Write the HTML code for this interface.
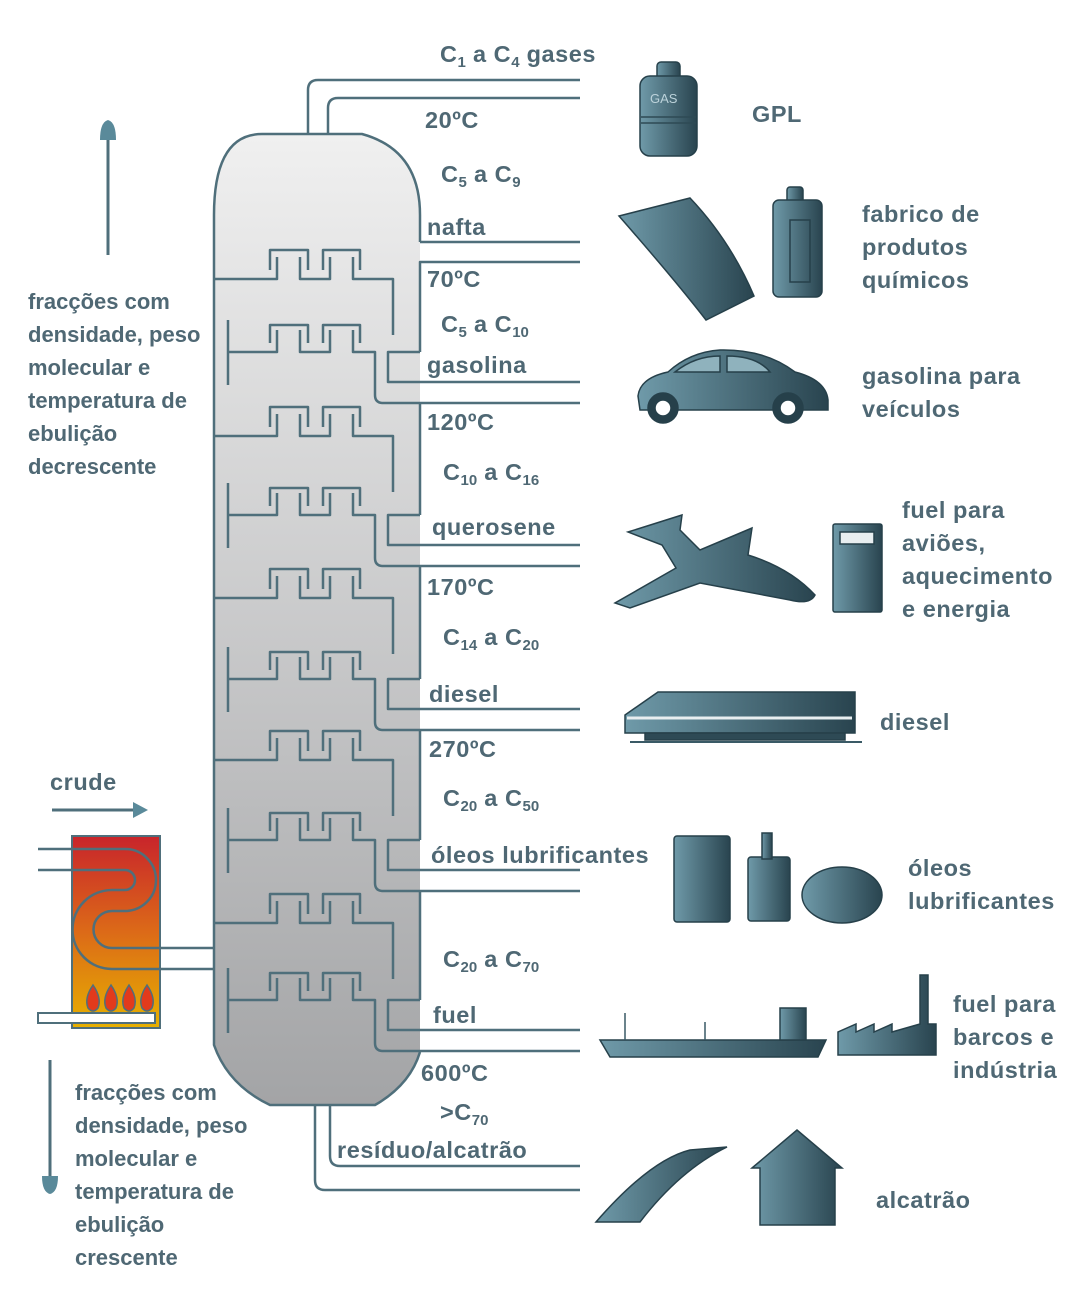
<!DOCTYPE html>
<html><head><meta charset="utf-8"><style>
html,body{margin:0;padding:0;background:#fff}
svg{display:block}
text{font-family:"Liberation Sans",sans-serif;fill:#4f6874;font-weight:bold}
.l{font-size:22px;letter-spacing:0px}
.c{font-size:23.5px;letter-spacing:0.55px}
.s{font-size:15px;letter-spacing:0}
</style></head><body>
<svg width="1080" height="1296" viewBox="0 0 1080 1296" xmlns="http://www.w3.org/2000/svg">
<defs>
<linearGradient id="col" x1="0" y1="0" x2="0" y2="1"><stop offset="0" stop-color="#f0f0f0"/><stop offset="1" stop-color="#a3a4a6"/></linearGradient>
<linearGradient id="fur" x1="0" y1="0" x2="0" y2="1"><stop offset="0" stop-color="#c8242b"/><stop offset="0.5" stop-color="#dc6a18"/><stop offset="1" stop-color="#e6b000"/></linearGradient>
<linearGradient id="ic" x1="0" y1="0" x2="1" y2="0"><stop offset="0" stop-color="#6f9aa9"/><stop offset="1" stop-color="#29444f"/></linearGradient>
</defs>

<path d="M214 215 Q214 134 262 134 H362 Q420 150 420 215 V1052 Q410 1085 375 1105 H270 Q228 1085 214 1045 Z" fill="url(#col)"/>
<g fill="none" stroke="#4f6f7b" stroke-width="2.5" stroke-linejoin="round">
<path d="M420 242 V215 Q420 150 362 134 H262 Q214 134 214 215 V1045 Q228 1085 270 1105 H375 Q410 1085 420 1052"/>
<path d="M308 134 V90 Q308 80 318 80 H580"/>
<path d="M328 134 V108 Q328 98 338 98 H580"/>
<path d="M420 242 H580"/>
<path d="M580 262 H420 V352"/>
<path d="M420 403 V515"/>
<path d="M420 566 V679"/>
<path d="M420 730 V840"/>
<path d="M420 891 V1000"/>
<path d="M315 1105 V1180 Q315 1190 325 1190 H580"/>
<path d="M330 1105 V1156 Q330 1166 340 1166 H580"/>
<g id="trA">
<path d="M214 279 H277 V257 M300 257 V279 H330 V257 M353 257 V279 H393 V335 M270 270 V250 H308 V270 M323 270 V250 H360 V270"/>
</g>
<use href="#trA" y="157"/>
<use href="#trA" y="319"/>
<use href="#trA" y="481"/>
<use href="#trA" y="644"/>
<g id="trB">
<path d="M228 320 V385 M228 352 H277 V330 M300 330 V352 H330 V330 M353 330 V352 H375 V395 Q375 403 383 403 H580 M420 352 H388 V382 H580 M270 343 V325 H308 V343 M323 343 V325 H360 V343"/>
</g>
<use href="#trB" y="163"/>
<use href="#trB" y="327"/>
<use href="#trB" y="488"/>
<use href="#trB" y="648"/>
</g>

<rect x="72" y="836" width="88" height="192" fill="url(#fur)" stroke="#4f6f7b" stroke-width="2"/>
<g fill="#e23a1c" stroke="#4f6f7b" stroke-width="1.5">
<path d="M93 985 Q84 998 88 1008 Q93 1014 98 1008 Q102 998 93 985Z"/>
<path d="M111 985 Q102 998 106 1008 Q111 1014 116 1008 Q120 998 111 985Z"/>
<path d="M129 985 Q120 998 124 1008 Q129 1014 134 1008 Q138 998 129 985Z"/>
<path d="M147 985 Q138 998 142 1008 Q147 1014 152 1008 Q156 998 147 985Z"/>
</g>
<rect x="38" y="1013" width="117" height="10" fill="#fff" stroke="#4f6f7b" stroke-width="2"/>
<g fill="none" stroke="#4f6f7b" stroke-width="2.5">
<path d="M38 849 H125 A31 31 0 0 1 125 911 H112 A18.5 18.5 0 0 0 112 948 H214"/>
<path d="M38 870 H125 A10 10 0 0 1 125 890 H112 A39.5 39.5 0 0 0 112 969 H214"/>
</g>
<text x="50" y="790" class="c">crude</text>
<path d="M52 810 H135" stroke="#4f6f7b" stroke-width="3"/>
<path d="M133 802 L148 810 L133 818 Z" fill="#5a8a9a"/>

<path d="M108 255 V135" stroke="#4f6f7b" stroke-width="3"/>
<path d="M100 140 Q100 122 108 120 Q116 122 116 140 Z" fill="#5a8a9a"/>
<path d="M50 1060 V1178" stroke="#4f6f7b" stroke-width="3"/>
<path d="M42 1176 Q42 1192 50 1194 Q58 1192 58 1176 Z" fill="#5a8a9a"/>

<text x="28" y="309" class="l">fracções com</text>
<text x="28" y="342" class="l">densidade, peso</text>
<text x="28" y="375" class="l">molecular e</text>
<text x="28" y="408" class="l">temperatura de</text>
<text x="28" y="441" class="l">ebulição</text>
<text x="28" y="474" class="l">decrescente</text>
<text x="75" y="1100" class="l">fracções com</text>
<text x="75" y="1133" class="l">densidade, peso</text>
<text x="75" y="1166" class="l">molecular e</text>
<text x="75" y="1199" class="l">temperatura de</text>
<text x="75" y="1232" class="l">ebulição</text>
<text x="75" y="1265" class="l">crescente</text>

<text x="440" y="62" class="c">C<tspan class="s" dy="5">1</tspan><tspan dy="-5"> a C</tspan><tspan class="s" dy="5">4</tspan><tspan dy="-5"> gases</tspan></text>
<text x="425" y="128" class="c">20ºC</text>
<text x="441" y="182" class="c">C<tspan class="s" dy="5">5</tspan><tspan dy="-5"> a C</tspan><tspan class="s" dy="5">9</tspan></text>
<text x="427" y="235" class="c">nafta</text>
<text x="427" y="287" class="c">70ºC</text>
<text x="441" y="332" class="c">C<tspan class="s" dy="5">5</tspan><tspan dy="-5"> a C</tspan><tspan class="s" dy="5">10</tspan></text>
<text x="427" y="373" class="c">gasolina</text>
<text x="427" y="430" class="c">120ºC</text>
<text x="443" y="480" class="c">C<tspan class="s" dy="5">10</tspan><tspan dy="-5"> a C</tspan><tspan class="s" dy="5">16</tspan></text>
<text x="432" y="535" class="c">querosene</text>
<text x="427" y="595" class="c">170ºC</text>
<text x="443" y="645" class="c">C<tspan class="s" dy="5">14</tspan><tspan dy="-5"> a C</tspan><tspan class="s" dy="5">20</tspan></text>
<text x="429" y="702" class="c">diesel</text>
<text x="429" y="757" class="c">270ºC</text>
<text x="443" y="806" class="c">C<tspan class="s" dy="5">20</tspan><tspan dy="-5"> a C</tspan><tspan class="s" dy="5">50</tspan></text>
<text x="431" y="863" class="c">óleos lubrificantes</text>
<text x="443" y="967" class="c">C<tspan class="s" dy="5">20</tspan><tspan dy="-5"> a C</tspan><tspan class="s" dy="5">70</tspan></text>
<text x="433" y="1023" class="c">fuel</text>
<text x="421" y="1081" class="c">600ºC</text>
<text x="440" y="1120" class="c">&gt;C<tspan class="s" dy="5">70</tspan></text>
<text x="337" y="1158" class="c">resíduo/alcatrão</text>

<text x="752" y="122" class="c">GPL</text>
<text x="862" y="222" class="c">fabrico de</text>
<text x="862" y="255" class="c">produtos</text>
<text x="862" y="288" class="c">químicos</text>
<text x="862" y="384" class="c">gasolina para</text>
<text x="862" y="417" class="c">veículos</text>
<text x="902" y="518" class="c">fuel para</text>
<text x="902" y="551" class="c">aviões,</text>
<text x="902" y="584" class="c">aquecimento</text>
<text x="902" y="617" class="c">e energia</text>
<text x="880" y="730" class="c">diesel</text>
<text x="908" y="876" class="c">óleos</text>
<text x="908" y="909" class="c">lubrificantes</text>
<text x="953" y="1012" class="c">fuel para</text>
<text x="953" y="1045" class="c">barcos e</text>
<text x="953" y="1078" class="c">indústria</text>
<text x="876" y="1208" class="c">alcatrão</text>

<g stroke="#26404a" stroke-width="1.5">
<rect x="657" y="62" width="23" height="18" rx="4" fill="url(#ic)"/>
<rect x="640" y="76" width="57" height="80" rx="10" fill="url(#ic)"/>
<path d="M641 117 H696 M641 123 H696" stroke="#2e4a55"/>
<text x="650" y="103" style="font-size:13px;fill:#bcd2da;stroke:none;font-weight:normal">GAS</text>
<path d="M619 216 L690 198 Q730 240 754 296 L706 320 Q675 280 619 216Z" fill="url(#ic)"/>
<rect x="787" y="187" width="16" height="16" rx="3" fill="url(#ic)"/>
<rect x="773" y="200" width="49" height="97" rx="6" fill="url(#ic)"/>
<rect x="790" y="220" width="20" height="62" fill="none" stroke="#26404a"/>
<path d="M638 396 Q640 378 668 372 Q690 352 720 350 Q765 349 795 372 Q826 380 828 400 L828 410 H640 Z" fill="url(#ic)"/>
<circle cx="663" cy="408" r="15" fill="#26404a"/><circle cx="663" cy="408" r="8" fill="#fff"/>
<circle cx="788" cy="408" r="15" fill="#26404a"/><circle cx="788" cy="408" r="8" fill="#fff"/>
<path d="M675 372 Q695 356 720 356 L720 372 Z M727 356 Q757 356 770 372 L727 372 Z" fill="#8fb2bd"/>
<path d="M628 532 L682 515 L680 530 L700 550 L752 528 L748 555 Q790 568 815 595 Q810 605 790 600 L700 583 L630 608 L615 603 L676 568 L662 545 Z" fill="url(#ic)"/>
<rect x="833" y="524" width="49" height="88" rx="2" fill="url(#ic)"/>
<rect x="840" y="532" width="34" height="12" fill="#e8eef0"/>
<path d="M625 715 L658 692 H855 V733 H625 Z" fill="url(#ic)"/>
<path d="M627 718 H852" stroke="#e8eef0" stroke-width="3"/>
<path d="M630 742 H862" stroke="#3a5a66" stroke-width="2"/>
<rect x="645" y="733" width="200" height="7" fill="#2e4a55"/>
<rect x="674" y="836" width="56" height="86" rx="3" fill="url(#ic)"/>
<rect x="748" y="857" width="42" height="64" rx="3" fill="url(#ic)"/>
<rect x="762" y="833" width="10" height="26" fill="url(#ic)"/>
<ellipse cx="842" cy="895" rx="40" ry="28" fill="url(#ic)"/>
<path d="M600 1040 H826 L818 1057 H610 Z" fill="url(#ic)"/>
<rect x="780" y="1008" width="26" height="32" fill="url(#ic)"/>
<path d="M625 1040 V1013 M705 1040 V1022" stroke="#3a5a66"/>
<path d="M838 1055 V1032 L856 1024 V1032 L874 1024 V1032 L892 1024 V1032 L920 1024 V975 H928 V1024 L936 1024 V1055 Z" fill="url(#ic)"/>
<path d="M596 1222 Q650 1160 690 1150 L727 1147 Q680 1170 640 1222 Z" fill="url(#ic)"/>
<path d="M752 1168 L797 1130 L842 1168 L835 1168 V1225 H760 V1168 Z" fill="url(#ic)"/>
</g>
</svg>
</body></html>
